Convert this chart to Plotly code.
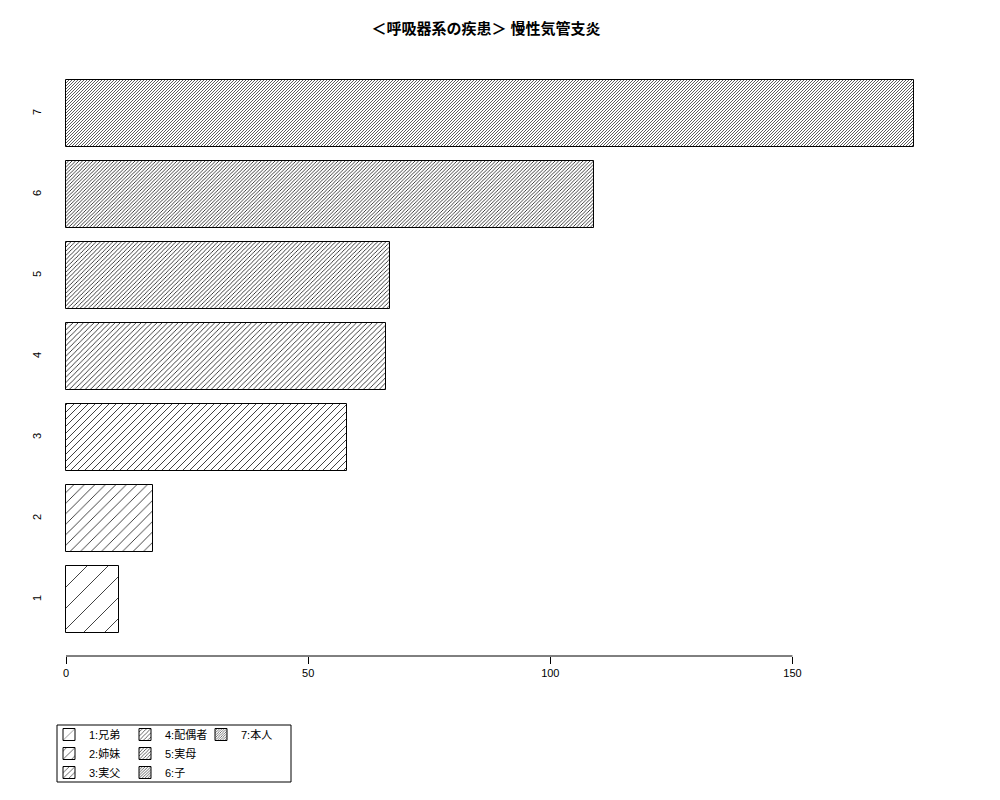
import math
import plotly.graph_objects as go

# ---- data ----
categories = [1, 2, 3, 4, 5, 6, 7]
legend_labels = ["1:兄弟", "2:姉妹", "3:実父", "4:配偶者", "5:実母", "6:子", "7:本人"]
values = [11, 18, 58, 66, 67, 109, 175]
x_ticks = [0, 50, 100, 150]
title_text = "＜呼吸器系の疾患＞ 慢性気管支炎"

# ---- style ----
# plotly '/' pattern: size = perpendicular line spacing, stroke = solidity*size
pattern_size = [21.0 / k / math.sqrt(2) for k in categories]
legend_ids = ["legend", "legend", "legend", "legend2", "legend2", "legend2", "legend3"]
FONT = "Liberation Sans, Arial, Noto Sans CJK JP, sans-serif"

OFF = 8  # page body margin
W, H = 1000 - OFF, 800 - OFF

def fx(px):  # reference page px -> figure px
    return px - OFF

def fy(py):
    return py - OFF

plot_left, plot_right, plot_top, plot_bottom = fx(50), fx(947), fy(57), fy(656)
L, R, T, B = plot_left, W - plot_right, plot_top, H - plot_bottom
plot_w = plot_right - plot_left
plot_h = plot_bottom - plot_top
px_per_unit = 4.843
x0_px = fx(66)  # pixel of value 0
x_range = [(plot_left - x0_px) / px_per_unit, (plot_right - x0_px) / px_per_unit]
y_range = [0.3025, 7.6975]

fig = go.Figure()
for c, lab, v, sp, lg in zip(categories, legend_labels, values, pattern_size, legend_ids):
    fig.add_trace(go.Bar(
        x=[v], y=[c], orientation="h", width=1 / 1.2, name=lab, legend=lg,
        marker=dict(
            color="white",
            line=dict(color="black", width=1),
            pattern=dict(shape="/", size=sp, solidity=min(0.32, 0.8 / sp),
                         fgcolor="#111111", bgcolor="white", fillmode="replace"),
        ),
        hoverinfo="x+name",
    ))

# x axis line spanning only tick range (R style)
fig.add_shape(type="line", xref="x", yref="paper",
              x0=min(x_ticks), x1=max(x_ticks), y0=0, y1=0,
              line=dict(color="black", width=1))

def px_to_paper_x(px):
    return (fx(px) - plot_left) / plot_w

def py_to_paper_y(py):
    return (plot_bottom - fy(py)) / plot_h

# legend border box
fig.add_shape(type="rect", xref="paper", yref="paper",
              x0=px_to_paper_x(57), x1=px_to_paper_x(291),
              y0=py_to_paper_y(782), y1=py_to_paper_y(725),
              line=dict(color="black", width=1), fillcolor="rgba(0,0,0,0)")

leg_common = dict(xref="container", yref="container", xanchor="left", yanchor="top",
                  bgcolor="rgba(0,0,0,0)", borderwidth=0,
                  font=dict(family=FONT, size=11, color="black"),
                  itemwidth=30, tracegroupgap=0)

leg_top = 1 - fy(720) / H

fig.update_layout(
    width=W, height=H,
    margin=dict(l=L, r=R, t=T, b=B, autoexpand=False),
    paper_bgcolor="white", plot_bgcolor="white",
    font=dict(family=FONT, size=11, color="black"),
    title=dict(text="<b>" + title_text + "</b>", x=fx(486) / W, xref="container", xanchor="center",
               y=1 - fy(29) / H, yref="container", yanchor="middle",
               font=dict(family="Liberation Sans, Noto Sans CJK JP, sans-serif", size=15, color="black")),
    barmode="overlay",
    bargap=0,
    showlegend=True,
    legend=dict(x=fx(49) / W, y=leg_top, **leg_common),
    legend2=dict(x=fx(125) / W, y=leg_top, **leg_common),
    legend3=dict(x=fx(201) / W, y=leg_top, **leg_common),
    xaxis=dict(range=x_range, tickvals=x_ticks, ticktext=[str(t) for t in x_ticks],
               ticks="outside", ticklen=7, tickcolor="black", tickwidth=1,
               showline=False, showgrid=False, zeroline=False, automargin=False,
               tickfont=dict(family=FONT, size=11, color="black")),
    yaxis=dict(range=y_range, tickvals=categories, ticktext=[str(c) for c in categories],
               tickangle=-90, ticks="", showline=False, showgrid=False, zeroline=False,
               ticklabelstandoff=6, automargin=False,
               tickfont=dict(family=FONT, size=11, color="black")),
)

fig.write_html("out.html")
